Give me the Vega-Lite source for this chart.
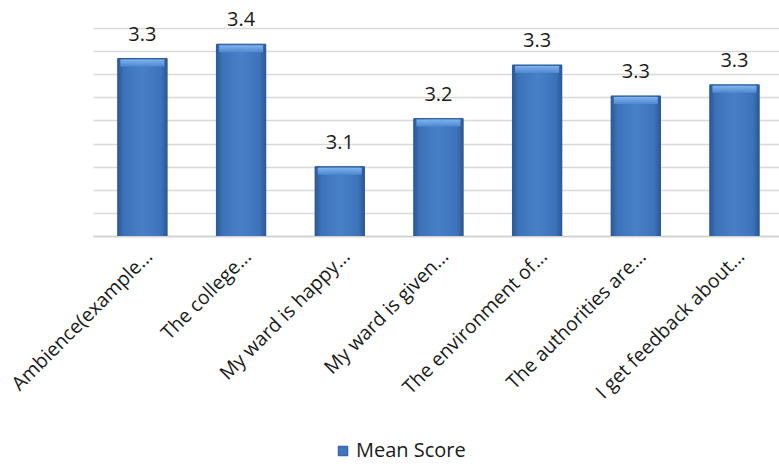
{
  "$schema": "https://vega.github.io/schema/vega-lite/v6.json",
  "width": 686,
  "height": 208,
  "autosize": "none",
  "padding": {"left": 93, "top": 28, "right": 0, "bottom": 231},
  "background": "white",
  "config": {"view": {"stroke": null}, "font": "Open Sans"},
  "data": {
    "values": [
      {"item": "Ambience(example...", "score": 3.334, "series": "Mean Score"},
      {"item": "The college...", "score": 3.365, "series": "Mean Score"},
      {"item": "My ward is happy...", "score": 3.10, "series": "Mean Score"},
      {"item": "My ward is given...", "score": 3.204, "series": "Mean Score"},
      {"item": "The environment of...", "score": 3.32, "series": "Mean Score"},
      {"item": "The authorities are...", "score": 3.253, "series": "Mean Score"},
      {"item": "I get feedback about...", "score": 3.277, "series": "Mean Score"}
    ]
  },
  "encoding": {
    "x": {
      "field": "item",
      "type": "nominal",
      "sort": null,
      "scale": {"paddingInner": 0.5, "paddingOuter": 0.226, "align": 0.555},
      "axis": {
        "title": null,
        "labelAngle": -45,
        "labelAlign": "right",
        "labelBaseline": "middle",
        "labelFont": "Open Sans",
        "labelFontSize": 19.5,
        "labelColor": "#1a1a1a",
        "labelPadding": 17,
        "labelOffset": 7,
        "labelLimit": 400,
        "ticks": false,
        "domain": true,
        "domainColor": "#d0d0d0",
        "domainWidth": 1.5
      }
    },
    "y": {
      "field": "score",
      "type": "quantitative",
      "scale": {"domain": [2.95, 3.4], "nice": false, "zero": false},
      "axis": {
        "title": null,
        "values": [2.95, 3.0, 3.05, 3.1, 3.15, 3.2, 3.25, 3.3, 3.35, 3.4],
        "labels": false,
        "ticks": false,
        "domain": false,
        "grid": true,
        "gridColor": "#d9d9d9",
        "gridWidth": 1.5
      }
    }
  },
  "layer": [
    {
      "mark": {"type": "bar", "clip": true},
      "encoding": {
        "color": {
          "field": "series",
          "type": "nominal",
          "scale": {"range": ["#3f76be"]},
          "legend": {
            "title": null,
            "orient": "none",
            "legendX": 240,
            "legendY": 413,
            "padding": 0,
            "symbolType": "square",
            "symbolSize": 90,
            "symbolFillColor": "#3f76be",
            "symbolOpacity": 1,
            "symbolStrokeColor": "#2a5a99",
            "symbolStrokeWidth": 1,
            "labelFont": "Open Sans",
            "labelFontSize": 20,
            "labelColor": "#1a1a1a",
            "labelOffset": 3
          }
        }
      }
    },
    {
      "mark": {
        "type": "bar",
        "clip": true,
        "stroke": "#2c5d98",
        "strokeWidth": 1,
        "fill": {
          "gradient": "linear",
          "x1": 0, "y1": 0, "x2": 1, "y2": 0,
          "stops": [
            {"offset": 0, "color": "#2a5896"},
            {"offset": 0.12, "color": "#3c72b9"},
            {"offset": 0.5, "color": "#4880c8"},
            {"offset": 0.88, "color": "#3c72b9"},
            {"offset": 1, "color": "#2a5896"}
          ]
        }
      },
      "encoding": {}
    },
    {
      "mark": {
        "type": "tick",
        "size": 44,
        "thickness": 7,
        "yOffset": 4.5,
        "opacity": 1,
        "fill": {
          "gradient": "linear",
          "x1": 0, "y1": 0, "x2": 0, "y2": 1,
          "stops": [
            {"offset": 0, "color": "#7fb2ee"},
            {"offset": 1, "color": "#4f88cf"}
          ]
        }
      },
      "encoding": {}
    },
    {
      "mark": {"type": "text", "baseline": "alphabetic", "dy": -18, "font": "Open Sans", "fontSize": 20, "color": "#1a1a1a"},
      "encoding": {"text": {"field": "score", "type": "quantitative", "format": ".1f"}}
    }
  ]
}
